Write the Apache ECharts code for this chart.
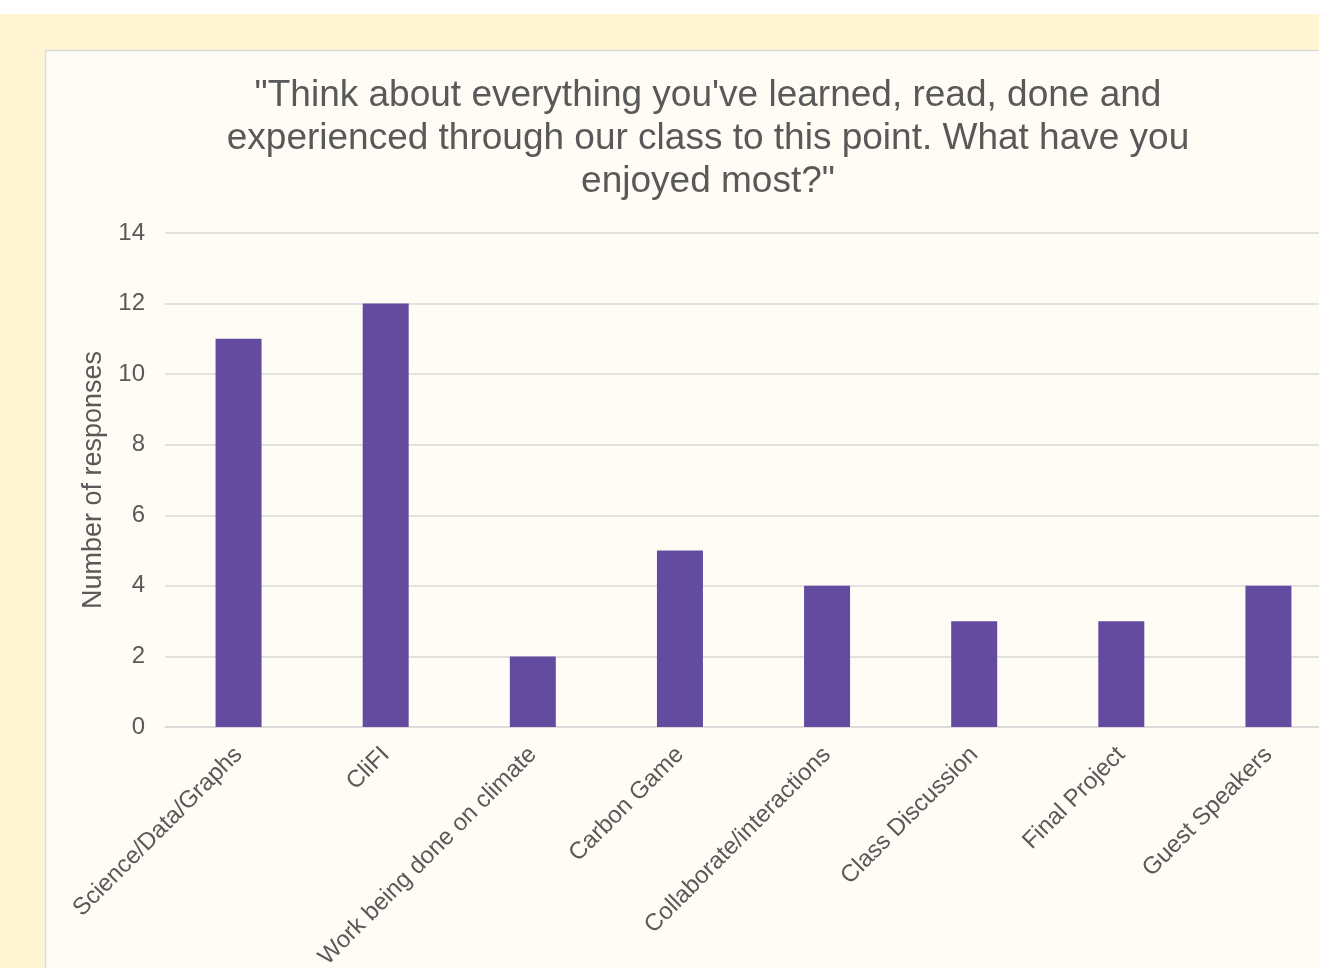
<!DOCTYPE html>
<html>
<head>
<meta charset="utf-8">
<script src="https://cdn.jsdelivr.net/npm/echarts@6/dist/echarts.min.js"></script>
<style>
  html, body { margin: 0; padding: 0; overflow: hidden; background: #ffffff; width: 1319px; height: 968px; }
  #chart { position: absolute; left: 0; top: 0; width: 1416px; height: 968px; }
</style>
</head>
<body>
<div id="chart"></div>
<script>
const titleText = '"Think about everything you\'ve learned, read, done and\nexperienced through our class to this point. What have you\nenjoyed most?"';
const categories = ['Science/Data/Graphs', 'CliFI', 'Work being done on climate', 'Carbon Game', 'Collaborate/interactions', 'Class Discussion', 'Final Project', 'Guest Speakers'];
const responses = [11, 12, 2, 5, 4, 3, 3, 4];
const yAxisName = 'Number of responses';

const chart = echarts.init(document.getElementById('chart'), null, { renderer: 'canvas' });
const textColor = '#595959';
const font = '"Liberation Sans", Arial, sans-serif';

chart.setOption({
  backgroundColor: '#ffffff',
  animation: false,
  graphic: [
    { type: 'rect', z: -10, shape: { x: 0, y: 14, width: 1416, height: 960 }, style: { fill: '#fff5d3' } },
    { type: 'rect', z: -9, shape: { x: 45.5, y: 50.5, width: 1400, height: 1000 }, style: { fill: '#fffcf5', stroke: '#d9d9d9', lineWidth: 1.5 } }
  ],
  title: {
    text: titleText,
    left: 'center',
    top: 69,
    textStyle: { color: textColor, fontFamily: font, fontSize: 37, fontWeight: 'normal', lineHeight: 43 }
  },
  grid: { left: 165, right: 74, top: 233, bottom: 241, containLabel: false, outerBoundsMode: 'none' },
  xAxis: {
    type: 'category',
    data: categories,
    axisLine: { show: true, lineStyle: { color: '#d9d9d9', width: 1.5 } },
    axisTick: { show: false },
    axisLabel: { interval: 0, rotate: 45, margin: 24, color: textColor, fontFamily: font, fontSize: 24 }
  },
  yAxis: {
    type: 'value',
    min: 0, max: 14, interval: 2,
    name: yAxisName,
    nameLocation: 'middle',
    nameGap: 55,
    nameRotate: 90,
    nameTextStyle: { color: textColor, fontFamily: font, fontSize: 27 },
    axisLine: { show: false },
    axisTick: { show: false },
    axisLabel: { margin: 20, color: textColor, fontFamily: font, fontSize: 24 },
    splitLine: { lineStyle: { color: '#d9d9d9', width: 1.5 } }
  },
  series: [{
    type: 'bar',
    data: responses,
    barWidth: 46,
    itemStyle: { color: '#634c9f' }
  }]
});
</script>
</body>
</html>
